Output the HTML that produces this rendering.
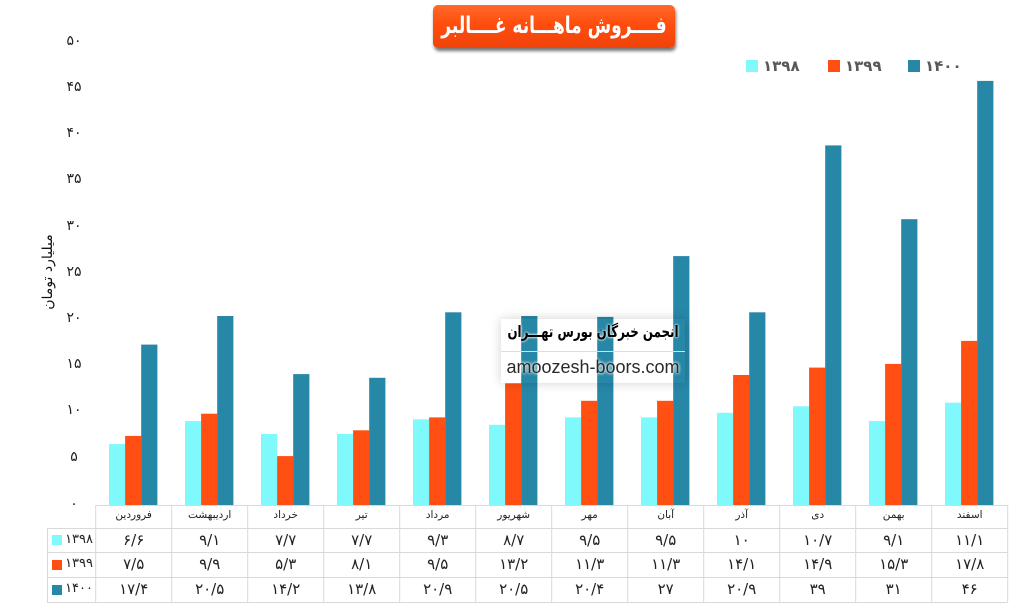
<!DOCTYPE html>
<html><head><meta charset="utf-8">
<style>
html,body{margin:0;padding:0;background:#fff;}
body{width:1034px;height:616px;position:relative;overflow:hidden;font-family:"DejaVu Sans","Liberation Sans",sans-serif;}
.a{position:absolute;white-space:nowrap;}
.yl{position:absolute;width:40px;left:54px;text-align:center;font-size:14px;color:#222;line-height:14px;}
.mh{position:absolute;width:76px;text-align:center;font-size:10.5px;color:#222;top:508px;line-height:14px;}
.cv{position:absolute;width:76px;text-align:center;font-size:15px;color:#222;line-height:16px;}
.title{position:absolute;left:433px;top:5px;width:242px;height:43px;border-radius:5px;
 background:linear-gradient(#ff6a2a,#ff4d0e 45%,#f0430a);box-shadow:1px 3px 3px rgba(0,0,0,0.55);}
.title span{position:absolute;left:50%;top:0;line-height:43px;color:#fff;font-weight:bold;font-size:23px;white-space:nowrap;direction:rtl;transform:translateX(-50%) scaleX(0.74);}
.lg{position:absolute;top:56px;font-size:15px;font-weight:bold;color:#595959;line-height:20px;}
.sw{position:absolute;width:12px;height:12px;}
.rl{position:absolute;left:60px;width:33px;text-align:right;font-size:13px;color:#222;line-height:16px;}
</style></head><body>

<div class="title"><span>فــــروش ماهـــانه غــــالبر</span></div>

<!-- legend -->
<div class="sw" style="left:746px;top:60px;background:#7ff9fb"></div>
<div class="lg" style="left:763px">۱۳۹۸</div>
<div class="sw" style="left:828px;top:60px;background:#ff4f12"></div>
<div class="lg" style="left:845px">۱۳۹۹</div>
<div class="sw" style="left:908px;top:60px;background:#2787a7"></div>
<div class="lg" style="left:925px">۱۴۰۰</div>

<!-- y labels -->
<div class="yl" style="top:34px">۵۰</div>
<div class="yl" style="top:80px">۴۵</div>
<div class="yl" style="top:126px">۴۰</div>
<div class="yl" style="top:172px">۳۵</div>
<div class="yl" style="top:219px">۳۰</div>
<div class="yl" style="top:265px">۲۵</div>
<div class="yl" style="top:311px">۲۰</div>
<div class="yl" style="top:357px">۱۵</div>
<div class="yl" style="top:403px">۱۰</div>
<div class="yl" style="top:450px">۵</div>
<div class="yl" style="top:497px">۰</div>

<div class="a" style="left:48px;top:272px;transform:translate(-50%,-50%) rotate(-90deg);font-size:14px;color:#111;direction:rtl;">میلیارد تومان</div>

<svg class="a" style="left:0;top:0" width="1034" height="616" xmlns="http://www.w3.org/2000/svg">
<g id="bars"></g>
<g stroke="#d9d9d9" stroke-width="1" fill="none">
<line x1="95.7" y1="505.5" x2="1007.7" y2="505.5"/>
<line x1="47" y1="528.5" x2="1007.7" y2="528.5"/>
<line x1="47" y1="552.5" x2="1007.7" y2="552.5"/>
<line x1="47" y1="577.5" x2="1007.7" y2="577.5"/>
<line x1="47" y1="602.5" x2="1007.7" y2="602.5"/>
<line x1="47.5" y1="528" x2="47.5" y2="602"/>
<g id="vl"></g>
</g>
<rect x="52" y="535" width="10" height="10" fill="#7ff9fb"/>
<rect x="52" y="560" width="10" height="10" fill="#ff4f12"/>
<rect x="52" y="585" width="10" height="10" fill="#2787a7"/>
</svg>

<div class="rl" style="top:532px;">۱۳۹۸</div>
<div class="rl" style="top:556px;">۱۳۹۹</div>
<div class="rl" style="top:581px;">۱۴۰۰</div>

<div id="tbl"></div>

<!-- watermark -->
<div class="a" style="left:501px;top:319px;width:184px;height:64px;box-shadow:0 0 10px rgba(0,0,0,0.18);"></div>
<div class="a" style="left:501px;top:351px;width:184px;height:1px;background:#ddd;"></div>
<div class="a" style="left:593px;top:321px;font-size:16px;font-weight:bold;color:#000;direction:rtl;line-height:22px;transform:translateX(-50%) scaleX(0.74);text-shadow:0 0 3px #fff,0 0 3px #fff;">انجمن خبرگان بورس تهـــران</div>
<div class="a" style="left:501px;top:355px;width:184px;text-align:center;font-family:'Liberation Sans',sans-serif;font-size:18px;color:#2a2a2a;line-height:24px;text-shadow:0 0 3px #fff,0 0 3px #fff;">amoozesh-boors.com</div>

<script>
var months=["فروردین","اردیبهشت","خرداد","تیر","مرداد","شهریور","مهر","آبان","آذر","دی","بهمن","اسفند"];
var d=[[6.6,9.1,7.7,7.7,9.3,8.7,9.5,9.5,10,10.7,9.1,11.1],
[7.5,9.9,5.3,8.1,9.5,13.2,11.3,11.3,14.1,14.9,15.3,17.8],
[17.4,20.5,14.2,13.8,20.9,20.5,20.4,27,20.9,39,31,46]];
var cols=["#7ff9fb","#ff4f12","#2787a7"];
var fa="۰۱۲۳۴۵۶۷۸۹";
function pf(v){var s=String(v).replace(".","/");return s.replace(/[0-9]/g,function(c){return fa[+c];});}
var ns="http://www.w3.org/2000/svg";
var g=document.getElementById("bars"),vl=document.getElementById("vl"),t=document.getElementById("tbl");
var h="";
for(var i=0;i<12;i++){
 var x0=95.7+76*i;
 for(var s=0;s<3;s++){
  var r=document.createElementNS(ns,"rect");
  var hh=d[s][i]*9.22;
  r.setAttribute("x",(x0+13.3+16.1*s).toFixed(1));
  r.setAttribute("y",(505-hh).toFixed(1));
  r.setAttribute("width","16.2");
  r.setAttribute("height",hh.toFixed(1));
  r.setAttribute("fill",cols[s]);
  g.appendChild(r);
 }
 h+='<div class="mh" style="left:'+x0+'px">'+months[i]+'</div>';
 var tops=[532,556,581];
 for(var s=0;s<3;s++) h+='<div class="cv" style="left:'+x0+'px;top:'+tops[s]+'px">'+pf(d[s][i])+'</div>';
}
for(var k=0;k<=12;k++){
 var l=document.createElementNS(ns,"line");
 var x=(95.7+76*k);
 l.setAttribute("x1",x);l.setAttribute("x2",x);l.setAttribute("y1",505);l.setAttribute("y2",602);
 vl.appendChild(l);
}
t.innerHTML=h;
</script>
</body></html>
